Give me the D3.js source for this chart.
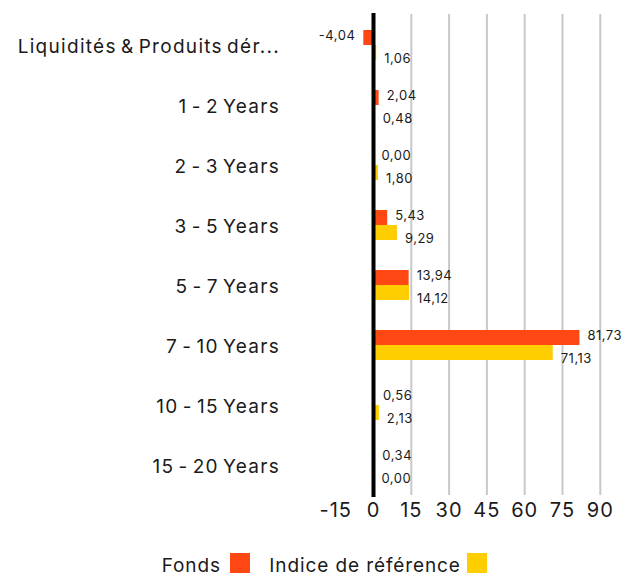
<!DOCTYPE html>
<html>
<head>
<meta charset="utf-8">
<script src="https://cdn.jsdelivr.net/npm/d3@7"></script>
<style>
  body { margin: 0; background: #fff; }
  text { font-family: Inter, "Open Sans", sans-serif; fill: #1a1a1a; }
</style>
</head>
<body>
<div id="container"></div>
<script>
const categories = ["Liquidités & Produits dér...", "1 - 2 Years", "2 - 3 Years", "3 - 5 Years",
                    "5 - 7 Years", "7 - 10 Years", "10 - 15 Years", "15 - 20 Years"];
const fonds = [-4.04, 2.04, 0.00, 5.43, 13.94, 81.73, 0.56, 0.34];
const indice = [1.06, 0.48, 1.80, 9.29, 14.12, 71.13, 2.13, 0.00];
const seriesNames = ["Fonds", "Indice de référence"];
const seriesColors = ["#ff4713", "#ffce00"];
const xTicks = [-15, 0, 15, 30, 45, 60, 75, 90];

const w = 640;
const h = 580;
const plotLeft = 335.7;
const plotRight = 600.3;
const plotTop = 15;
const plotBottom = 495;

const locale = d3.formatLocale({decimal: ",", thousands: " ", grouping: [3], currency: ["", "€"], minus: "-"});
const fmt = locale.format(".2f");

const rows = categories.map((c, i) => ({cat: c, values: [fonds[i], indice[i]]}));

const x = d3.scaleLinear().domain([-15, 90]).range([plotLeft, plotRight]);
const y0 = d3.scaleBand().domain(categories).range([plotTop, plotBottom]).paddingInner(0.5).paddingOuter(0.25);
const y1 = d3.scaleBand().domain(d3.range(2)).range([0, y0.bandwidth()]);

const svg = d3.select("#container").append("svg")
    .attr("width", w)
    .attr("height", h);

// gridlines
svg.append("g")
    .selectAll("line")
    .data(xTicks.filter(t => t > 0))
    .enter()
    .append("line")
    .attr("x1", d => x(d))
    .attr("x2", d => x(d))
    .attr("y1", plotTop - 1)
    .attr("y2", plotBottom)
    .attr("stroke", "#c8c8c8")
    .attr("stroke-width", 2);

// bars
const groups = svg.append("g")
    .selectAll("g")
    .data(rows)
    .enter()
    .append("g")
    .attr("transform", d => "translate(0," + y0(d.cat) + ")");

groups.selectAll("rect")
    .data(d => d.values)
    .enter()
    .append("rect")
    .attr("x", d => x(Math.min(0, d)))
    .attr("width", d => Math.abs(x(d) - x(0)))
    .attr("y", (d, i) => y1(i))
    .attr("height", y1.bandwidth())
    .attr("fill", (d, i) => seriesColors[i]);

groups.selectAll("text")
    .data(d => d.values)
    .enter()
    .append("text")
    .attr("x", d => d < 0 ? x(d) - 8 : x(d) + 8)
    .attr("y", (d, i) => y1(i) + y1.bandwidth() / 2 + (i === 0 ? -2.5 : 5))
    .attr("dominant-baseline", "central")
    .attr("text-anchor", d => d < 0 ? "end" : "start")
    .style("font-size", "13px")
    .style("letter-spacing", "0.5px")
    .text(d => fmt(d));

// zero line
svg.append("line")
    .attr("x1", x(0))
    .attr("x2", x(0))
    .attr("y1", plotTop - 2)
    .attr("y2", plotBottom + 2)
    .attr("stroke", "#000")
    .attr("stroke-width", 4);

// category labels
svg.append("g")
    .selectAll("text")
    .data(categories)
    .enter()
    .append("text")
    .attr("x", 280)
    .attr("y", d => y0(d) + y0.bandwidth() / 2 + 1)
    .attr("text-anchor", "end")
    .attr("dominant-baseline", "central")
    .style("font-size", "19px")
    .style("letter-spacing", "1.3px")
    .style("word-spacing", "-2.5px")
    .text(d => d);

// x tick labels
svg.append("g")
    .selectAll("text")
    .data(xTicks)
    .enter()
    .append("text")
    .attr("x", d => x(d))
    .attr("y", 510)
    .attr("text-anchor", "middle")
    .attr("dominant-baseline", "central")
    .style("font-size", "20px")
    .style("letter-spacing", "1px")
    .text(d => d);

// legend
const legend = svg.append("g");
const legendX = [161.7, 269.3];
const legendSq = [230, 467];
seriesNames.forEach((name, i) => {
    legend.append("text")
        .attr("x", legendX[i])
        .attr("y", 572)
        .style("font-size", "19px")
        .style("letter-spacing", "0.9px")
        .text(name);
    legend.append("rect")
        .attr("x", legendSq[i])
        .attr("y", 553)
        .attr("width", 20)
        .attr("height", 20)
        .attr("fill", seriesColors[i]);
});
</script>
</body>
</html>
